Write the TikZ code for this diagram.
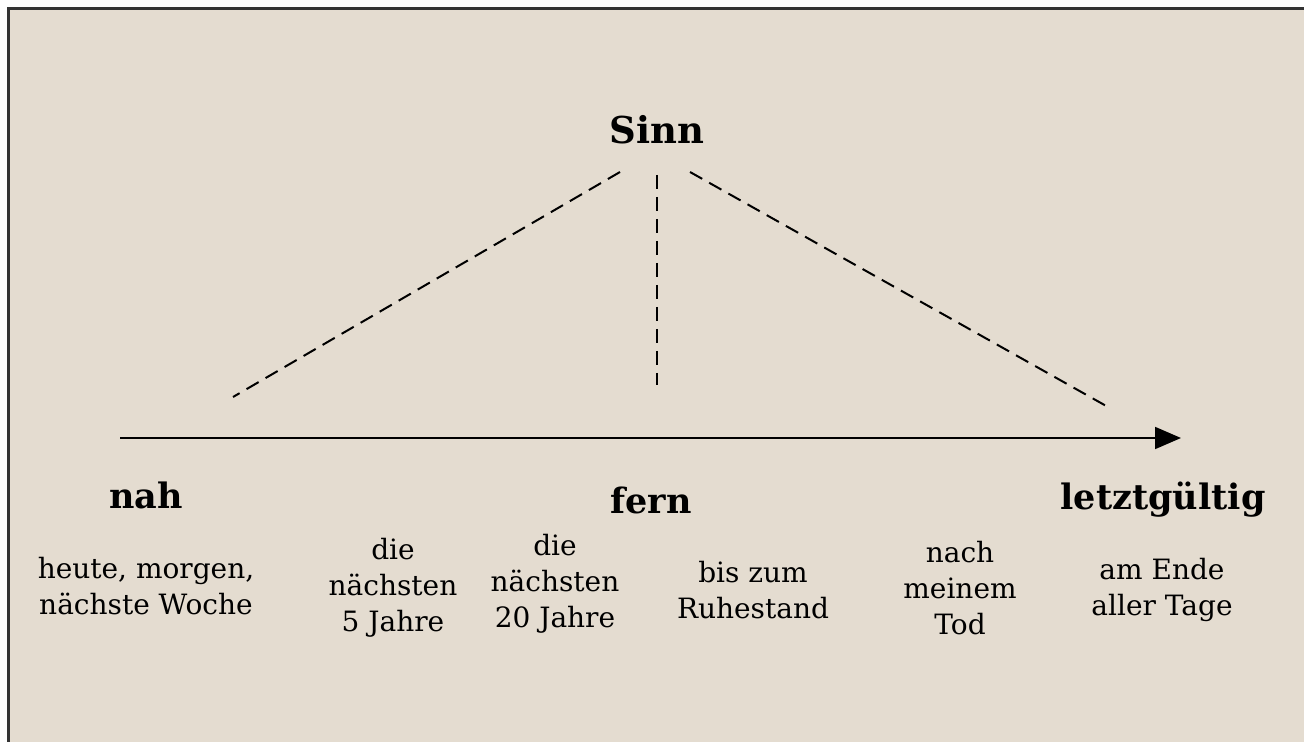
\documentclass[tikz,border=0pt]{standalone}
\usepackage{fontspec}
\setmainfont{DejaVu Serif}
\usetikzlibrary{arrows.meta}
\definecolor{paper}{RGB}{228,220,208}

\begin{document}
\begin{tikzpicture}[
    x=0.5pt, y=-0.5pt,
    heading/.style={font=\fontsize{17.5}{20}\selectfont\bfseries},
    period/.style={align=center, font=\fontsize{14}{18}\selectfont},
    hint/.style={line width=1pt, dash pattern=on 7pt off 4pt},
    axis/.style={-{Triangle[length=13pt, width=11pt]}, line width=0.9pt}
]
\useasboundingbox (0,0) rectangle (1304,742);
\fill[white] (0,0) rectangle (1304,742);
\fill[paper] (8,9) rectangle (1304,742);
\draw[line width=1.5pt, black!80] (8,742) -- (8,9) -- (1304,9);

% Sinn at the top
\node[heading, font=\fontsize{18.5}{22}\selectfont\bfseries] (sinn) at (657,130) {Sinn};
\coordinate (hintL) at (233,397);
\coordinate (hintM) at (657,385);
\coordinate (hintR) at (1108,407);
\draw[hint] (620,172) -- (hintL);
\draw[hint] (657,175) -- (hintM);
\draw[hint] (690,172) -- (hintR);

% time axis
\coordinate (start) at (120,438);
\coordinate (end) at (1181,438);
\draw[axis] (start) -- (end);

% headings below the axis
\node[heading] (nah) at (146,495) {nah};
\node[heading] (fern) at (651,500) {fern};
\node[heading] (final) at (1163,500) {letztgültig};

% periods
\node[period] (week) at (146,586) {heute, morgen,\\nächste Woche};
\node[period] (five) at (393,588) {die\\nächsten\\5 Jahre};
\node[period] (twenty) at (555,584) {die\\nächsten\\20 Jahre};
\node[period] (retire) at (753,590) {bis zum\\Ruhestand};
\node[period] (death) at (960,588) {nach\\meinem\\Tod};
\node[period] (ever) at (1162,590) {am Ende\\aller Tage};

\end{tikzpicture}
\end{document}
